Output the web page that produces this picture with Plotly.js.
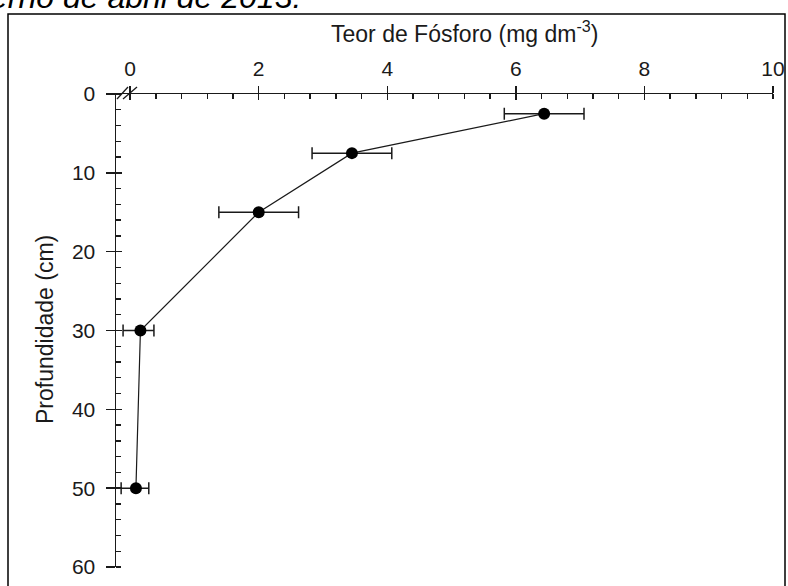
<!DOCTYPE html>
<html>
<head>
<meta charset="utf-8">
<script src="https://cdn.plot.ly/plotly-3.0.1.min.js"></script>
<style>html,body{margin:0;padding:0;background:#fff;}#chart{width:788px;height:586px;}</style>
</head>
<body>
<div id="chart"></div>
<script>
// Data
const depthCm = [2.5, 7.5, 15, 30, 50];
const phosphorus = [6.44, 3.45, 2.0, 0.16, 0.09];
const errPlus = [0.62, 0.62, 0.62, 0.21, 0.20];
const errMinus = [0.62, 0.62, 0.62, 0.27, 0.23];
const xTickVals = [0, 2, 4, 6, 8, 10];
const yTickVals = [0, 10, 20, 30, 40, 50, 60];
const xTitle = 'Teor de Fósforo (mg dm<sup>-3</sup>)';
const yTitle = 'Profundidade (cm)';
const topCaption = 'erno de abril de 2013.';

const FONT = 'Arial, "Liberation Sans", sans-serif';
const INK = '#1a1a1a';

const W = 788, H = 586;
const M = {l: 116, r: 15, t: 94, b: 19};
const PW = W - M.l - M.r, PH = H - M.t - M.b;
const px = x => (x - M.l) / PW;           // page px -> paper x
const py = y => (H - M.b - y) / PH;       // page px -> paper y

const traces = [
  {
    x: phosphorus, y: depthCm, type: 'scatter', mode: 'lines+markers',
    line: {color: INK, width: 1.2},
    marker: {color: '#000', size: 12},
    error_x: {type: 'data', symmetric: false, array: errPlus, arrayminus: errMinus,
              color: INK, thickness: 1.5, width: 6},
    hoverinfo: 'skip', showlegend: false
  },
  {
    x: phosphorus, y: depthCm, type: 'scatter', mode: 'markers',
    xaxis: 'x2', yaxis: 'y2', marker: {opacity: 0, size: 1},
    hoverinfo: 'skip', showlegend: false
  }
];

const xRange = [-0.22, 10];
const yRange = [60, 0];

const layout = {
  width: W, height: H,
  margin: M,
  paper_bgcolor: '#fff', plot_bgcolor: '#fff',
  font: {family: FONT, color: INK, size: 21},
  showlegend: false,
  xaxis: {
    side: 'top', anchor: 'y', range: xRange, tickvals: xTickVals,
    ticks: 'outside', ticklen: 7, tickwidth: 1.5, tickcolor: INK,
    showline: true, linecolor: INK, linewidth: 1.5,
    showgrid: false, zeroline: false,
    tickfont: {size: 21, family: FONT, color: INK},
    ticklabelstandoff: 1,
    minor: {dtick: 0.4, tick0: 0, ticks: 'inside', ticklen: 5, tickwidth: 1.3, tickcolor: INK, showgrid: false}
  },
  yaxis: {
    anchor: 'x', range: yRange, tickvals: yTickVals,
    ticks: 'outside', ticklen: 9, tickwidth: 1.5, tickcolor: INK,
    showline: true, linecolor: INK, linewidth: 1.5,
    showgrid: false, zeroline: false,
    tickfont: {size: 21, family: FONT, color: INK},
    ticklabelstandoff: 6,
    minor: {dtick: 2, tick0: 0, ticks: 'inside', ticklen: 5, tickwidth: 1.3, tickcolor: INK, showgrid: false}
  },
  xaxis2: {
    overlaying: 'x', anchor: 'y', side: 'top', range: xRange, tickvals: xTickVals,
    ticks: 'inside', ticklen: 6, tickwidth: 1.5, tickcolor: INK,
    showticklabels: false, showline: false, showgrid: false, zeroline: false
  },
  yaxis2: {
    overlaying: 'y', anchor: 'x', side: 'left', range: yRange, tickvals: yTickVals,
    ticks: 'inside', ticklen: 6, tickwidth: 1.5, tickcolor: INK,
    showticklabels: false, showline: false, showgrid: false, zeroline: false
  },
  annotations: [
    {text: xTitle, xref: 'paper', yref: 'paper', x: px(464.5), y: py(32),
     xanchor: 'center', yanchor: 'middle', showarrow: false,
     font: {size: 23, family: FONT, color: INK}},
    {text: yTitle, xref: 'paper', yref: 'paper', x: px(45), y: py(330),
     xanchor: 'center', yanchor: 'middle', showarrow: false, textangle: -90,
     font: {size: 23, family: FONT, color: INK}},
    {text: '<i>' + topCaption + '</i>', xref: 'paper', yref: 'paper', x: px(-12), y: py(-3),
     xanchor: 'left', yanchor: 'middle', showarrow: false,
     font: {size: 32, family: FONT, color: '#000'}}
  ],
  shapes: [
    {type: 'rect', xref: 'paper', yref: 'paper', x0: px(8), x1: px(785), y0: py(14), y1: py(600),
     line: {color: '#000', width: 1.5}, fillcolor: 'rgba(0,0,0,0)', layer: 'below'},
    {type: 'line', xref: 'paper', yref: 'paper', x0: px(117), y0: py(99), x1: px(128), y1: py(87),
     line: {color: INK, width: 1.3}},
    {type: 'line', xref: 'paper', yref: 'paper', x0: px(123), y0: py(99), x1: px(137), y1: py(87),
     line: {color: INK, width: 1.3}}
  ]
};

Plotly.newPlot('chart', traces, layout, {staticPlot: true, displayModeBar: false});
</script>
</body>
</html>
